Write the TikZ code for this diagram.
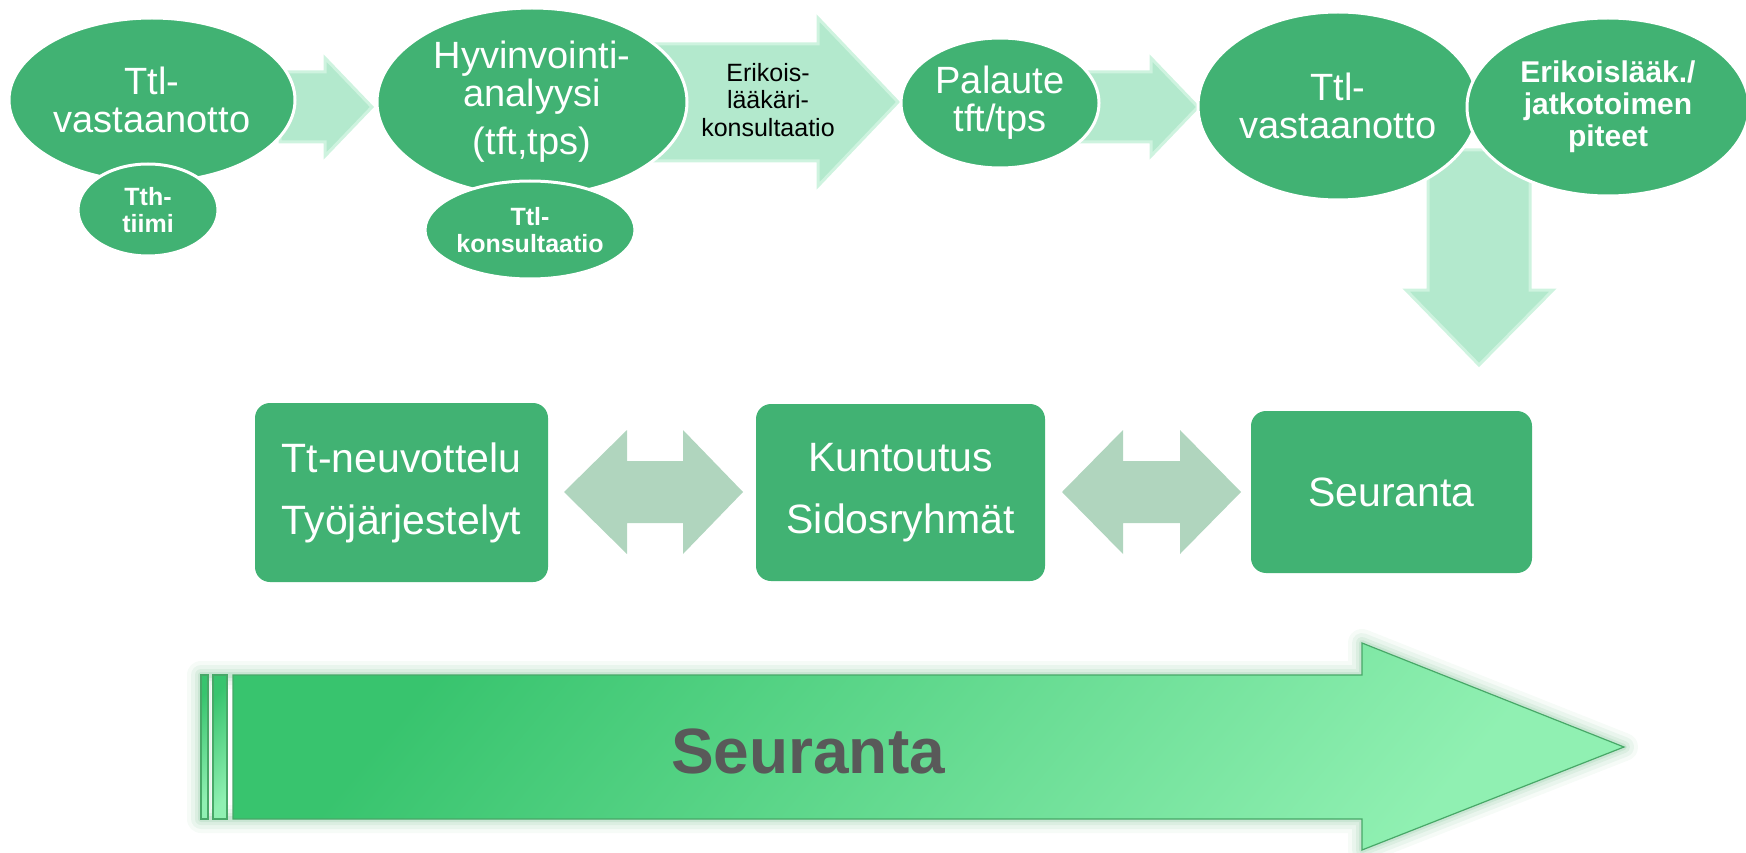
\documentclass[tikz,border=0pt]{standalone}
\usepackage{fontspec}
\setmainfont{Liberation Sans}
\usetikzlibrary{shapes.geometric}

\definecolor{ovalgreen}{RGB}{65,178,115}
\definecolor{mint}{RGB}{179,233,205}
\definecolor{mintedge}{RGB}{206,243,223}
\definecolor{sage}{RGB}{176,213,190}
\definecolor{darkgreen}{RGB}{56,196,110}
\definecolor{lightgreen}{RGB}{144,240,178}
\definecolor{rimgreen}{RGB}{72,168,104}
\definecolor{textgray}{RGB}{89,89,89}

\begin{document}
\begin{tikzpicture}[x=1pt, y=-1pt,
  oval/.style={shape=ellipse, fill=ovalgreen, draw=white, line width=3pt, inner sep=0pt, text=white, align=center},
  bigtext/.style={font=\fontsize{38}{38}\selectfont},
  smalltext/.style={font=\bfseries\fontsize{25}{27}\selectfont},
  box/.style={rectangle, rounded corners=15pt, fill=ovalgreen, text=white, align=center, inner sep=0pt, font=\fontsize{41}{62}\selectfont},
  blockarrow/.style={fill=mint, draw=mintedge, line width=3pt},
  twoway/.style={fill=sage},
  bandfill/.style={top color=darkgreen, bottom color=lightgreen, shading angle=50, draw=rimgreen, line width=1.2pt}
]
\useasboundingbox (0,0) rectangle (1746,853);

\path [blockarrow] (280,72) -- (325,72) -- (325,58) -- (372,107) -- (325,156) -- (325,142) -- (280,142) -- cycle;
\path [blockarrow] (650,44) -- (818,44) -- (818,18) -- (898,102) -- (818,186) -- (818,161) -- (650,161) -- cycle;
\path [blockarrow] (1080,72) -- (1151,72) -- (1151,58) -- (1198,107) -- (1151,156) -- (1151,142) -- (1080,142) -- cycle;
\path [blockarrow] (1428,150) -- (1530,150) -- (1530,290) -- (1553,290) -- (1479,365) -- (1406,290) -- (1428,290) -- cycle;

\node (1) at (152,100) [oval, bigtext, minimum width=286pt, minimum height=164pt] {Ttl-\\vastaanotto};
\node (2) at (532,102) [oval, bigtext, minimum width=310pt, minimum height=188pt] {Hyvinvointi-\\analyysi\\[10pt](tft,tps)};
\node (3) at (1000,103) [oval, bigtext, minimum width=198pt, minimum height=130pt] {Palaute\\tft/tps};
\node (4) at (1338,106) [oval, bigtext, minimum width=280pt, minimum height=188pt] {Ttl-\\vastaanotto};
\node (5) at (1608,107) [oval, font=\bfseries\fontsize{30}{32}\selectfont, minimum width=282pt, minimum height=178pt] {Erikoislääk./\\jatkotoimen\\piteet};
\node (6) at (148,210) [oval, smalltext, minimum width=140pt, minimum height=92pt] {Tth-\\tiimi};
\node (7) at (530,230) [oval, smalltext, minimum width=210pt, minimum height=98pt] {Ttl-\\konsultaatio};
\node (8) at (768,100) [align=center, font=\fontsize{25}{27.5}\selectfont] {Erikois-\\lääkäri-\\konsultaatio};

\node (9) at (401.5,492.5) [box, minimum width=293pt, minimum height=179pt] {Tt-neuvottelu\\Työjärjestelyt};
\node (10) at (900.5,492.5) [box, minimum width=289pt, minimum height=177pt] {Kuntoutus\\Sidosryhmät};
\node (11) at (1391.5,492) [box, minimum width=281pt, minimum height=162pt] {Seuranta};

\path [twoway] (564,492) -- (627,430) -- (627,461) -- (683,461) -- (683,430) -- (743,492) -- (683,554) -- (683,523) -- (627,523) -- (627,554) -- cycle;
\path [twoway] (1062,492) -- (1123,430) -- (1123,461) -- (1180,461) -- (1180,430) -- (1241,492) -- (1180,554) -- (1180,523) -- (1123,523) -- (1123,554) -- cycle;

\foreach \w/\o in {28/0.05, 20/0.07, 12/0.09, 6/0.12}
  \draw [rimgreen, line width=\w pt, opacity=\o, line join=round] (201,675) -- (1362,675) -- (1362,643) -- (1624,747) -- (1362,850) -- (1362,819) -- (201,819) -- cycle;
\path [bandfill] (201,675) rectangle (208,819);
\path [bandfill] (213,675) rectangle (227,819);
\path [bandfill] (233,675) -- (1362,675) -- (1362,643) -- (1624,747) -- (1362,850) -- (1362,819) -- (233,819) -- cycle;
\node (12) at (808,751) [font=\bfseries\fontsize{64}{64}\selectfont, text=textgray] {Seuranta};

\end{tikzpicture}
\end{document}
